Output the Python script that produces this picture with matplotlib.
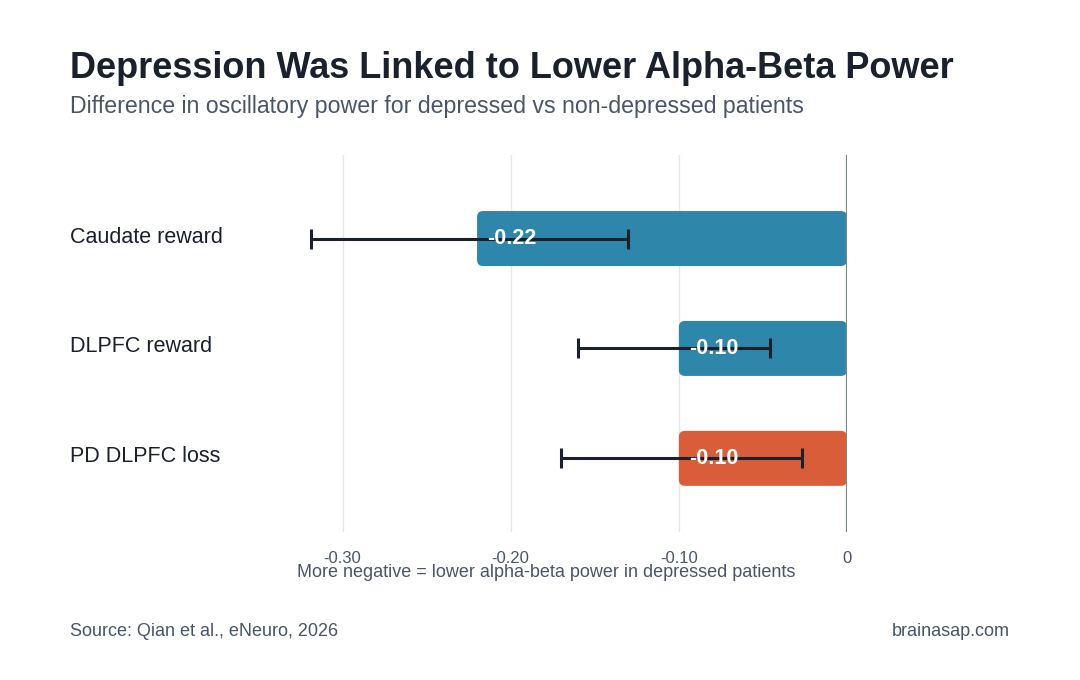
import matplotlib.pyplot as plt
from matplotlib.patches import FancyBboxPatch
from matplotlib.transforms import ScaledTranslation

plt.rcParams['font.family'] = ['Liberation Sans', 'DejaVu Sans']

categories = ["Caudate reward", "DLPFC reward", "PD DLPFC loss"]
values = [-0.22, -0.10, -0.10]
ci_low = [-0.319, -0.160, -0.170]
ci_high = [-0.130, -0.046, -0.027]
colors = ["#2E86AB", "#2E86AB", "#D95D39"]
xticks = [-0.30, -0.20, -0.10, 0]
xticklabels = ["-0.30", "-0.20", "-0.10", "0"]

W, H = 1080, 680
fig = plt.figure(figsize=(W / 100, H / 100), dpi=100)
ax_l, ax_r, ax_t, ax_b = 208, 847, 155, 532
ax = fig.add_axes([ax_l / W, 1 - ax_b / H, (ax_r - ax_l) / W, (ax_b - ax_t) / H])

xmin, xmax = -0.38, 0.0
ymin, ymax = -0.76, 2.67
ax.set_xlim(xmin, xmax)
ax.set_ylim(ymax, ymin)

ypos = list(range(len(categories)))
bars = ax.barh(ypos, values, height=0.5, color=colors)

# swap plain bars for rounded ones
px_x = (xmax - xmin) / (ax_r - ax_l)
px_y = (ymax - ymin) / (ax_b - ax_t)
for b, c in zip(bars, colors):
    b.set_visible(False)
    x0 = min(b.get_x(), b.get_x() + b.get_width())
    w = abs(b.get_width())
    r = FancyBboxPatch((x0, b.get_y()), w, abs(b.get_height()),
                       boxstyle="round,pad=0,rounding_size=%f" % (6 * px_x),
                       mutation_aspect=px_y / px_x, fc=c, ec="none", zorder=2)
    ax.add_patch(r)

for y, v in zip(ypos, values):
    ax.text(v + 10 * px_x, y, "%.2f" % v, color="white", fontsize=15.5,
            fontweight="bold", va="center", ha="left", zorder=4)

xerr = [[v - lo for v, lo in zip(values, ci_low)], [hi - v for v, hi in zip(values, ci_high)]]
ax.errorbar(values, ypos, xerr=xerr, fmt="none", ecolor="#1a202c",
            elinewidth=2.2, capsize=7, capthick=2.2, zorder=3)

for t in xticks[:-1]:
    ax.axvline(t, color="#e6e6e6", lw=1, zorder=0)
ax.axvline(0, color="#7a8a8a", lw=1.6, zorder=5)

for s in ax.spines.values():
    s.set_visible(False)
ax.set_xticks(xticks)
ax.set_xticklabels(xticklabels, color="#4a5568", fontsize=12)
ax.tick_params(axis="x", length=0, pad=14)
ax.set_yticks(ypos)
ax.set_yticklabels(categories, fontsize=15.5, color="#1a202c", ha="left")
ax.tick_params(axis="y", length=0, pad=(ax_l - 70) * 0.72)
shift = ScaledTranslation(0, 4 / 100, fig.dpi_scale_trans)
for lab in ax.get_yticklabels():
    lab.set_transform(lab.get_transform() + shift)

ax.text(0.53, -0.085, "More negative = lower alpha-beta power in depressed patients",
        transform=ax.transAxes, ha="center", va="top", fontsize=13, color="#4a5568")

fig.text(70 / W, 1 - 68 / H, "Depression Was Linked to Lower Alpha-Beta Power",
         fontsize=26, fontweight="bold", color="#1a202c", va="center", ha="left")
fig.text(70 / W, 1 - 107 / H, "Difference in oscillatory power for depressed vs non-depressed patients",
         fontsize=16.7, color="#4a5568", va="center", ha="left")
fig.text(70 / W, 1 - 631 / H, "Source: Qian et al., eNeuro, 2026",
         fontsize=13, color="#4a5568", va="center", ha="left")
fig.text(1010 / W, 1 - 631 / H, "brainasap.com",
         fontsize=13, color="#4a5568", va="center", ha="right")

fig.savefig("out.png", dpi=100, facecolor="white")
